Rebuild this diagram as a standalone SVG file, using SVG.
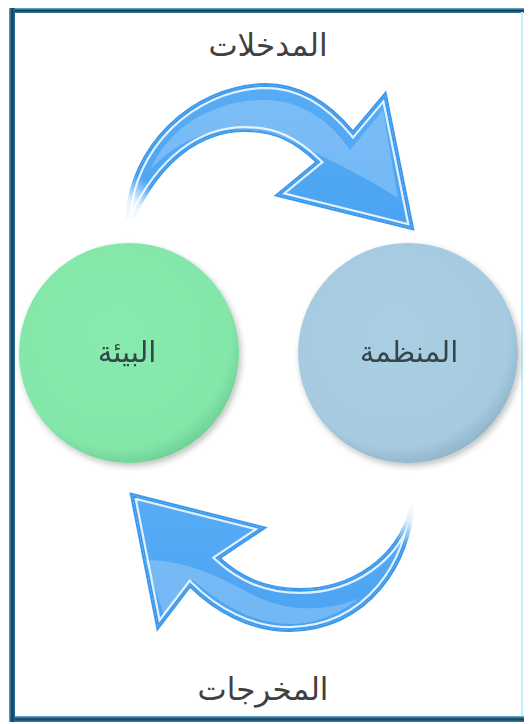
<svg xmlns="http://www.w3.org/2000/svg" width="531" height="724" viewBox="0 0 531 724">
<style>
.lbl{font-family:"DejaVu Sans","Noto Sans",sans-serif;font-size:31px;fill:#404040;text-anchor:middle}
.nlbl{font-family:"DejaVu Sans","Noto Sans",sans-serif;font-size:29px;fill:#34444c;text-anchor:middle}
.aout{fill:url(#aFill);stroke:#3c98ea;stroke-width:4;stroke-linejoin:miter}
.awhite{fill:none;stroke:#dff0ff;stroke-width:8;stroke-linejoin:miter}
.ablue{fill:none;stroke:#3c98ea;stroke-width:3.5;stroke-linejoin:miter}
</style>
<defs>
<radialGradient id="gGreen" cx="0.45" cy="0.42" r="0.6">
<stop offset="0" stop-color="#88eaae"/>
<stop offset="0.85" stop-color="#84e7aa"/>
<stop offset="1" stop-color="#6fcf95"/>
</radialGradient>
<radialGradient id="gBlue" cx="0.45" cy="0.42" r="0.6">
<stop offset="0" stop-color="#aacfe3"/>
<stop offset="0.85" stop-color="#a6cadf"/>
<stop offset="1" stop-color="#8fb4ca"/>
</radialGradient>
<filter id="sh" x="-20%" y="-20%" width="140%" height="140%">
<feGaussianBlur in="SourceAlpha" stdDeviation="3"/>
<feOffset dx="2" dy="3"/>
<feComponentTransfer><feFuncA type="linear" slope="0.25"/></feComponentTransfer>
<feMerge><feMergeNode/><feMergeNode in="SourceGraphic"/></feMerge>
</filter>
<linearGradient id="aFill" x1="0" y1="0" x2="0" y2="1">
<stop offset="0" stop-color="#58acf5"/>
<stop offset="1" stop-color="#4aa3f2"/>
</linearGradient>
<radialGradient id="tailFade">
<stop offset="0" stop-color="#000"/>
<stop offset="0.45" stop-color="#000" stop-opacity="0.85"/>
<stop offset="1" stop-color="#000" stop-opacity="0"/>
</radialGradient>
<path id="pTop" d="M128,217 C130,150 190,87 265,85 C300,85 330,105 353,133 L385,95 L412,228 L278,195 L318,162 C295,140 275,130 245,130 C200,130 160,160 133,217 Z"/>
<path id="pBot" d="M412,505 C410,560 370,628 290,630 C250,630 215,610 190,585 L158,627 L132,495 L263,528 L218,558 C240,578 265,590 300,590 C350,590 400,560 412,505 Z"/>
<clipPath id="cTop"><use href="#pTop"/></clipPath>
<clipPath id="cBot"><use href="#pBot"/></clipPath>
<mask id="mTop"><rect x="0" y="0" width="531" height="724" fill="#fff"/><ellipse cx="130" cy="222" rx="30" ry="48" fill="url(#tailFade)"/></mask>
<mask id="mBot"><rect x="0" y="0" width="531" height="724" fill="#fff"/><ellipse cx="412" cy="500" rx="30" ry="48" fill="url(#tailFade)"/></mask>
<linearGradient id="frameL" x1="0" y1="0" x2="1" y2="0">
<stop offset="0" stop-color="#5aa6c8"/>
<stop offset="0.5" stop-color="#0f3d5c"/>
<stop offset="1" stop-color="#2a6e94"/>
</linearGradient>
<linearGradient id="frameT" x1="0" y1="0" x2="0" y2="1">
<stop offset="0" stop-color="#6fb6d6"/>
<stop offset="0.5" stop-color="#123f5e"/>
<stop offset="1" stop-color="#3b7ea3"/>
</linearGradient>
</defs>
<rect width="531" height="724" fill="#ffffff"/>
<g id="frame">
<rect x="9" y="8" width="515" height="5" fill="url(#frameT)"/>
<rect x="9" y="716" width="515" height="6" fill="url(#frameT)"/>
<rect x="9" y="8" width="6" height="714" fill="url(#frameL)"/>
<rect x="521" y="12" width="2" height="704" fill="#bfefff"/>
</g>
<g id="connectors">
<g id="arrow-inputs" mask="url(#mTop)">
<use href="#pTop" class="aout"/>
<g clip-path="url(#cTop)">
<use href="#pTop" class="awhite"/>
<use href="#pTop" class="ablue"/>
<path fill="#ffffff" opacity="0.22" d="M150,170 C170,125 215,100 265,100 C300,100 330,120 350,150 L383,110 L398,198 C370,180 340,165 300,145 C275,133 250,128 225,130 C195,134 170,148 150,170 Z"/>
</g>
</g>
<g id="arrow-outputs" mask="url(#mBot)">
<use href="#pBot" class="aout"/>
<g clip-path="url(#cBot)">
<use href="#pBot" class="awhite"/>
<use href="#pBot" class="ablue"/>
<path fill="#ffffff" opacity="0.22" d="M145,560 C190,560 225,580 255,596 C285,610 320,614 360,598 C335,618 310,624 290,624 C255,624 222,606 193,580 L164,615 Z"/>
</g>
</g>
</g>
<g id="node-environment" filter="url(#sh)">
<circle cx="129" cy="353" r="110" fill="url(#gGreen)"/>
<text class="nlbl" x="127" y="362">البيئة</text>
</g>
<g id="node-organization" filter="url(#sh)">
<circle cx="408" cy="353" r="110" fill="url(#gBlue)"/>
<text class="nlbl" x="409" y="362">المنظمة</text>
</g>
<g id="label-inputs">
<text class="lbl" x="268" y="56">المدخلات</text>
</g>
<g id="label-outputs">
<text class="lbl" x="263" y="700">المخرجات</text>
</g>
</svg>
